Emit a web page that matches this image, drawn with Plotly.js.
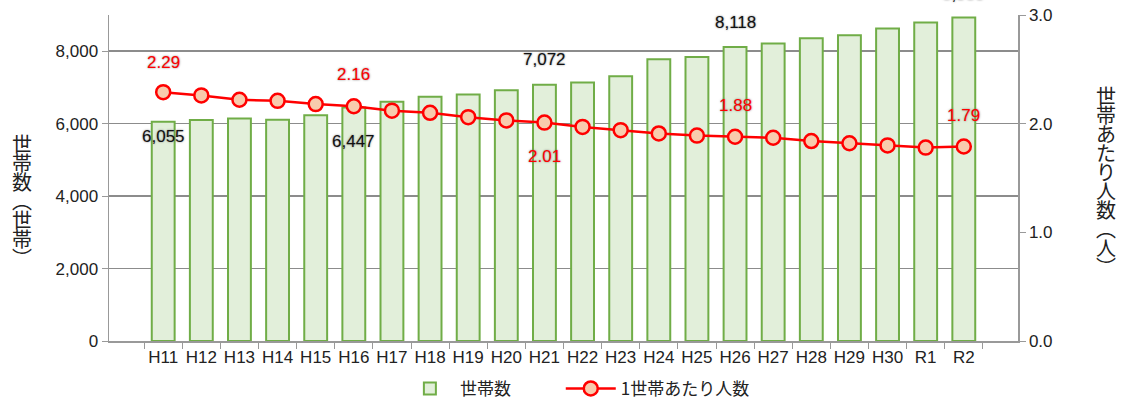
<!DOCTYPE html>
<html><head><meta charset="utf-8">
<script src="https://cdn.plot.ly/plotly-3.0.1.min.js"></script>
<style>html,body{margin:0;padding:0;background:#fff}#chart{width:1125px;height:403px}</style>
</head><body><div id="chart"></div>
<script>
const categories = ['H11','H12','H13','H14','H15','H16','H17','H18','H19','H20','H21','H22','H23','H24','H25','H26','H27','H28','H29','H30','R1','R2'];
const households = [6055,6100,6143,6110,6230,6447,6602,6740,6805,6924,7072,7136,7310,7780,7843,8118,8212,8359,8441,8626,8792,8930];
const perHousehold = [2.29,2.26,2.22,2.21,2.18,2.16,2.12,2.10,2.06,2.03,2.01,1.97,1.94,1.91,1.89,1.88,1.87,1.84,1.82,1.80,1.78,1.79];
const labeledIdx = [0,5,10,15,21];
const barName = '世帯数';
const lineName = '1世帯あたり人数';
const leftTitle = '世帯数︵世帯︶';
const rightTitle = '世帯あたり人数︵人︶';

const latin = 'Liberation Sans, Arial, sans-serif';
const jp = 'Noto Sans CJK JP, sans-serif';
const halo = '0px 0px 2px rgba(110,110,110,0.9)';

const barShift = [-15,-34,25,24,23];
const lineShift = [30,32,-34,31,31];

const annotations = [];
labeledIdx.forEach((i,k)=>{
  annotations.push({x:categories[i], y:households[i], xref:'x', yref:'y',
    text:households[i].toLocaleString('en-US'), showarrow:false, yshift:barShift[k],
    font:{family:latin,size:17,color:'#111',shadow:halo}});
  annotations.push({x:categories[i], y:perHousehold[i], xref:'x', yref:'y2',
    text:perHousehold[i].toFixed(2), showarrow:false, yshift:lineShift[k],
    font:{family:latin,size:17,color:'#ff0000',shadow:halo}});
});
function vtitle(str, xpaper, xshift, ycenterShift){
  const chars = Array.from(str);
  const step = 19;
  chars.forEach((c,i)=>{
    annotations.push({xref:'paper', yref:'paper', x:xpaper, y:0.5, xshift:xshift,
      xanchor:'center', yanchor:'middle',
      yshift: ycenterShift - (i-(chars.length-1)/2)*step,
      text:c, showarrow:false, font:{family:jp,size:20,color:'#222'}});
  });
}
vtitle(leftTitle, 0, -87, -22);
vtitle(rightTitle, 1, 88, -3);

const data = [
  {type:'bar', x:categories, y:households, name:barName, width:0.6, legend:'legend',
   marker:{color:'#e2efda', line:{color:'#70ad47', width:2}}},
  {type:'scatter', mode:'lines+markers', x:categories, y:perHousehold, name:lineName, yaxis:'y2', legend:'legend2',
   line:{color:'#ff0000', width:2.5},
   marker:{size:14, color:'#f8cbad', line:{color:'#ff0000', width:2.5}}}
];

const legendBase = {orientation:'h', xref:'paper', xanchor:'left', yref:'container', y:0.035, yanchor:'middle',
    font:{family:jp, size:17, color:'#222'}, itemwidth:50, bgcolor:'rgba(0,0,0,0)'};

const layout = {
  width:1125, height:403,
  margin:{l:109, r:107, t:15, b:62},
  paper_bgcolor:'#fff', plot_bgcolor:'#fff',
  showlegend:true,
  legend:Object.assign({}, legendBase, {x:0.32}),
  legend2:Object.assign({}, legendBase, {x:0.497}),
  xaxis:{type:'category', tickson:'boundaries', ticks:'outside', ticklen:6, tickcolor:'#999',
    tickangle:0, automargin:false,
    showline:true, linecolor:'#999', linewidth:1.5, showgrid:false,
    tickfont:{family:latin, size:17, color:'#222'}},
  yaxis:{range:[0,9000], dtick:2000, tickformat:',', ticks:'outside', ticklen:6, tickcolor:'#999',
    automargin:false,
    showline:true, linecolor:'#999', linewidth:1.5, gridcolor:'#8c8c8c', gridwidth:1.5, zeroline:false,
    tickfont:{family:latin, size:17, color:'#222'}},
  yaxis2:{range:[0,3], dtick:1, tickformat:'.1f', overlaying:'y', side:'right', ticks:'outside', ticklen:6,
    automargin:false,
    tickcolor:'#999', showline:true, linecolor:'#999', linewidth:1.5, showgrid:false, zeroline:false,
    tickfont:{family:latin, size:17, color:'#222'}},
  annotations:annotations
};
Plotly.newPlot('chart', data, layout, {staticPlot:true, displayModeBar:false});
</script></body></html>
